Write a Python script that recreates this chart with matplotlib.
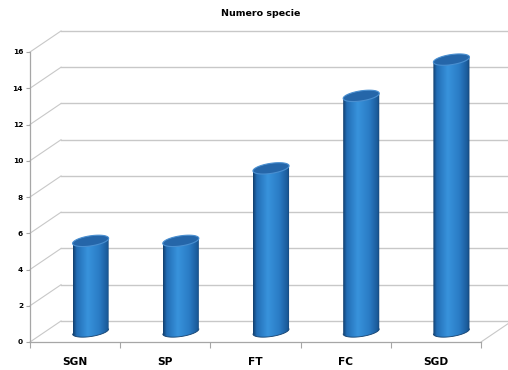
import numpy as np
import matplotlib.pyplot as plt
from matplotlib.colors import LinearSegmentedColormap
from matplotlib.patches import Polygon

# Numero specie per gruppo
categorie = ["SGN", "SP", "FT", "FC", "SGD"]
valori = [5, 5, 9, 13, 15]
y_ticks = list(range(0, 17, 2))

fig = plt.figure(figsize=(5.08, 3.70), dpi=100)
ax = fig.add_axes([30 / 508, 28 / 370, 451 / 508, 290 / 370])
ax.set_xlim(-0.5, 4.5)
ax.set_ylim(0, 16)

# depth offset of the back wall (data units)
dx, dy = 0.344, 1.16
grid_col = "#c8c8c8"

# back wall gridlines + left wall diagonals
for v in y_ticks:
    ax.plot([-0.5 + dx, 4.5 + dx], [v + dy, v + dy], color=grid_col, lw=1.0,
            clip_on=False, zorder=1)
    ax.plot([-0.5, -0.5 + dx], [v, v + dy], color=grid_col, lw=0.8,
            clip_on=False, zorder=1)
# floor right edge
ax.plot([4.5, 4.5 + dx], [0, dy], color=grid_col, lw=0.8, clip_on=False, zorder=1)

cmap = LinearSegmentedColormap.from_list(
    "cil", [(0, "#123f6d"), (0.1, "#226db5"), (0.4, "#3893dc"),
            (0.72, "#2a7bc4"), (0.92, "#1c5d9d"), (1, "#144577")])
grad = np.linspace(0, 1, 128).reshape(1, -1)

a = 0.2    # half width
b = 0.28   # half height of ellipse
s = 0.14   # tilt of the ellipses
t = np.linspace(0, 2 * np.pi, 100)

for i, v in enumerate(valori):
    cx = i + dx / 2
    base = dy / 2
    top = v + dy / 2
    # body: sides plus lower half of bottom ellipse
    tt = np.linspace(np.pi, 2 * np.pi, 50)
    bottom = np.column_stack([cx + a * np.cos(tt), base + b * np.sin(tt) + s * np.cos(tt)])
    body = np.vstack([[cx - a, top - s], bottom, [cx + a, top + s]])
    patch = Polygon(body, closed=True, facecolor="none", edgecolor="none",
                    clip_on=False, zorder=3)
    ax.add_patch(patch)
    im = ax.imshow(grad, cmap=cmap, aspect="auto", zorder=3,
                   extent=[cx - a, cx + a, base - b - s, top + s + b])
    im.set_clip_path(patch)
    ax.plot(bottom[:, 0], bottom[:, 1], color="#13406e", lw=0.6, zorder=4,
            clip_on=False)
    # top ellipse
    ell = np.column_stack([cx + a * np.cos(t), top + b * np.sin(t) + s * np.cos(t)])
    ax.add_patch(Polygon(ell, closed=True, facecolor="#2566a9",
                         edgecolor="#4a8fd0", lw=0.8, zorder=5, clip_on=False))

ax.set_xlim(-0.5, 4.5)
ax.set_ylim(0, 16)

for sp in ["top", "right"]:
    ax.spines[sp].set_visible(False)
for sp in ["left", "bottom"]:
    ax.spines[sp].set_color("#a6a6a6")
    ax.spines[sp].set_linewidth(0.9)

ax.set_yticks(y_ticks)
ax.set_yticklabels([str(v) for v in y_ticks], fontsize=5.3, fontweight="bold")
ax.tick_params(axis="y", length=3, width=0.8, color="#a6a6a6", pad=2)

ax.set_xticks(np.arange(-0.5, 5, 1))
ax.set_xticklabels([])
ax.set_xticks(range(len(categorie)), minor=True)
ax.set_xticklabels(categorie, minor=True, fontsize=7.7, fontweight="bold")
ax.tick_params(axis="x", which="major", length=4, width=0.8, color="#a6a6a6")
ax.tick_params(axis="x", which="minor", length=0, pad=11)

fig.text(261 / 508, 1 - 13 / 370, "Numero specie", ha="center", va="center",
         fontsize=6.8, fontweight="bold")

fig.savefig("out.png", dpi=100)
